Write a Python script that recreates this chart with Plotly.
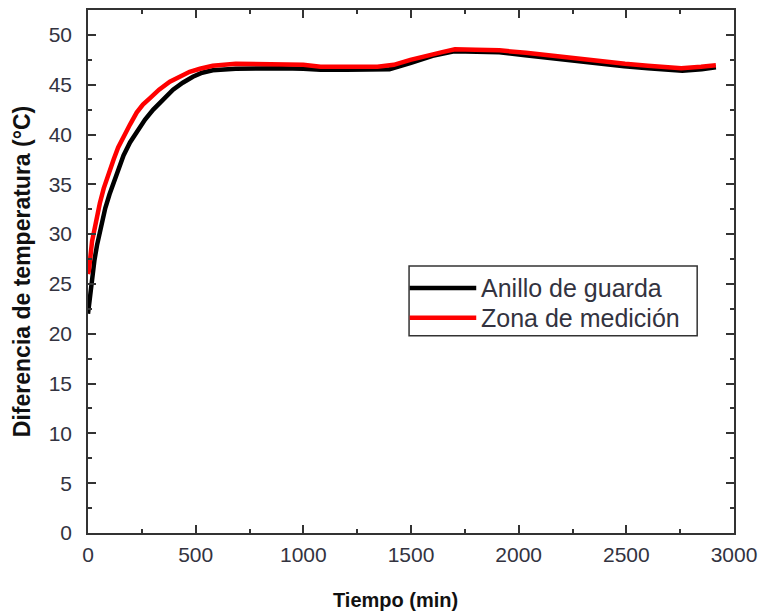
import plotly.graph_objects as go

# ---- data ----
t_guarda = [0, 5, 19, 30, 42, 60, 80, 100, 119, 140, 165, 195, 226, 265, 303, 350, 395, 440, 487,
            530, 579, 686, 800, 900, 1000, 1080, 1200, 1300, 1400, 1500, 1600, 1700, 1800, 1910,
            2030, 2150, 2260, 2380, 2490, 2600, 2680, 2760, 2850, 2916]
v_guarda = [22.0, 23.0, 25.8, 27.4, 28.9, 30.9, 32.6, 34.0, 35.2, 36.6, 37.9, 39.2, 40.2, 41.5,
            42.5, 43.6, 44.5, 45.2, 45.8, 46.2, 46.45, 46.6, 46.65, 46.65, 46.6, 46.5, 46.5,
            46.5, 46.55, 47.2, 47.9, 48.35, 48.35, 48.25, 47.95, 47.65, 47.4, 47.1, 46.85,
            46.65, 46.55, 46.4, 46.55, 46.75]

t_medicion = [0, 4, 19, 35, 55, 73, 95, 119, 140, 165, 195, 226, 255, 288, 330, 380, 425, 472,
              520, 579, 686, 800, 900, 1000, 1080, 1200, 1344, 1420, 1497, 1650, 1704, 1800,
              1911, 2034, 2150, 2264, 2380, 2494, 2600, 2678, 2755, 2847, 2916]
v_medicion = [26.0, 26.3, 29.3, 31.25, 33.1, 34.6, 36.1, 37.5, 38.7, 39.8, 41.0, 42.2, 43.0,
              43.65, 44.5, 45.3, 45.85, 46.3, 46.6, 46.9, 47.1, 47.1, 47.05, 47.0, 46.8, 46.8,
              46.8, 47.0, 47.5, 48.3, 48.55, 48.5, 48.45, 48.2, 47.9, 47.6, 47.35, 47.1, 46.9,
              46.8, 46.65, 46.8, 46.95]

series_names = ["Anillo de guarda", "Zona de medición"]
series_colors = ["#000000", "#ff0000"]

x_title = "Tiempo (min)"
y_title = "Diferencia de temperatura (°C)"

FONT = "Liberation Sans, Arial, sans-serif"
TICKC = "#333340"
AXC = "#333333"

fig = go.Figure()
for tt, vv, name, col in [(t_guarda, v_guarda, series_names[0], series_colors[0]),
                          (t_medicion, v_medicion, series_names[1], series_colors[1])]:
    fig.add_trace(go.Scatter(x=tt, y=vv, mode="lines", name=name,
                             line=dict(color=col, width=4.5), showlegend=False))

axis_common = dict(
    showline=True, linecolor=AXC, linewidth=1.5, mirror="allticks",
    ticks="inside", ticklen=8, tickwidth=1.5, tickcolor=AXC,
    showgrid=False, zeroline=False,
    tickfont=dict(family=FONT, size=21, color=TICKC),
)

fig.update_xaxes(range=[0, 3000], dtick=500, tick0=0, ticklabelstandoff=2,
                 minor=dict(dtick=250, ticks="inside", ticklen=4, tickwidth=1.5, tickcolor=AXC),
                 **axis_common)
fig.update_yaxes(range=[0, 52.5], dtick=5, tick0=0, ticklabelstandoff=10,
                 minor=dict(dtick=2.5, ticks="inside", ticklen=4, tickwidth=1.5, tickcolor=AXC),
                 title=dict(text=y_title, font=dict(family=FONT, size=23, color="#111111", weight="bold"),
                            standoff=12),
                 **axis_common)

# x-axis title (slightly left of centre, as in the original)
fig.add_annotation(xref="paper", yref="paper", x=0.4755, y=-0.128, text=x_title,
                   showarrow=False, xanchor="center", yanchor="middle",
                   font=dict(family=FONT, size=20, color="#111111", weight="bold"))

# legend box drawn in paper coordinates
lx0, lx1, ly0, ly1 = 0.497, 0.943, 0.377, 0.5105
fig.add_shape(type="rect", xref="paper", yref="paper", x0=lx0, x1=lx1, y0=ly0, y1=ly1,
              line=dict(color=AXC, width=1.5), fillcolor="white")
for yy, name, col in [(0.4686, series_names[0], series_colors[0]),
                      (0.4114, series_names[1], series_colors[1])]:
    fig.add_shape(type="line", xref="paper", yref="paper", x0=0.498, x1=0.601, y0=yy, y1=yy,
                  line=dict(color=col, width=4.5))
    fig.add_annotation(xref="paper", yref="paper", x=0.606, y=yy, text=name, showarrow=False,
                       xanchor="left", yanchor="middle",
                       font=dict(family=FONT, size=25, color=TICKC))

fig.update_layout(
    width=765, height=614,
    margin=dict(l=88, r=25, t=8, b=81),
    paper_bgcolor="white", plot_bgcolor="white",
)

fig.write_html("out.html")
